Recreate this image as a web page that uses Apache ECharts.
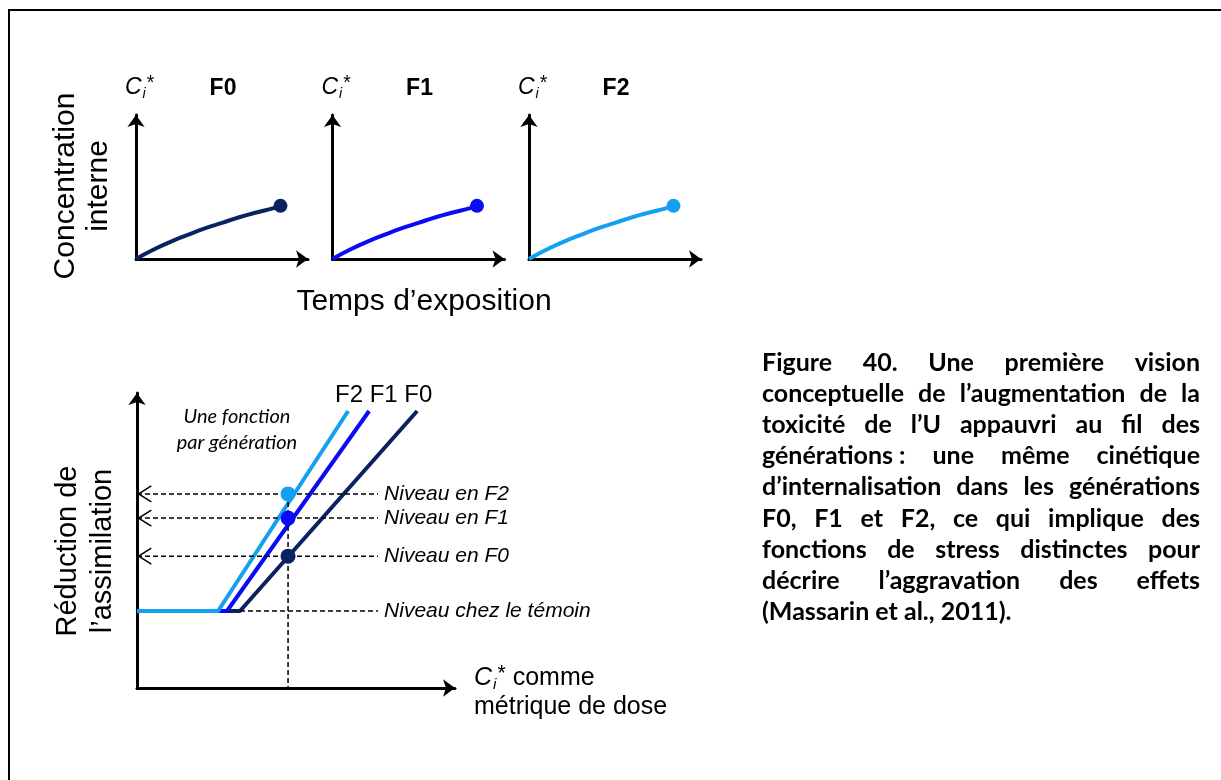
<!DOCTYPE html>
<html lang="fr">
<head>
<meta charset="utf-8">
<title>Figure 40</title>
<script src="https://cdn.jsdelivr.net/npm/echarts@6.0.0/dist/echarts.min.js"></script>
<style>
  html, body { margin: 0; padding: 0; background: #fff; }
  #chart { width: 1221px; height: 780px; }
</style>
</head>
<body>
<div id="chart"></div>
<script>
const generations = ['F0', 'F1', 'F2'];
const genColors = ['#0b2260', '#0a0af5', '#14a0f0'];

// internalisation kinetics, the same in every generation
const exposureTime = [0, 10, 20, 30, 40, 50, 60, 70, 80, 84];
const internalConc = [0, 6.4, 11.9, 16.7, 21.2, 25.1, 29, 32.3, 35.3, 36.9];

// stress functions: control level, then a straight rise from the threshold
const controlLevel = 26.1;
const thresholdDose = [32.4, 28.3, 25.5];
const maxDose = [88.1, 73, 66.4];
const maxEffect = 93.9;
const exposureDose = 47.5;
const observedLevel = [44.7, 57.6, 65.8];
const levelLabels = ['Niveau en F0', 'Niveau en F1', 'Niveau en F2'];
const controlLabel = 'Niveau chez le témoin';
const labelDose = 75.8;

const captionLines = [
  'Figure 40. Une première vision',
  'conceptuelle de l’augmentation de la',
  'toxicité de l’U appauvri au fil des',
  'générations\u00a0: une même cinétique',
  'd’internalisation dans les générations',
  'F0, F1 et F2, ce qui implique des',
  'fonctions de stress distinctes pour',
  'décrire l’aggravation des effets',
  '(Massarin et al., 2011).',
];

const FONT = "'Liberation Sans', Arial, sans-serif";
const CAPTION_FONT = 'Lato';
const CAPTION_SIZE = 25;
const CAPTION_LEFT = 762;
const CAPTION_WIDTH = 438;
const CAPTION_TOP = 363;
const CAPTION_STEP = 31.1;

const ciRich = (size) => ({
  c: { fontSize: size, fontStyle: 'italic', fontFamily: FONT, lineHeight: size + 4, color: '#000' },
  i: { fontSize: size * 0.62, fontStyle: 'italic', fontFamily: FONT, verticalAlign: 'bottom', lineHeight: size * 0.62, padding: [size * 0.7, 1, 0, 1], color: '#000' },
  s: { fontSize: size * 0.85, fontFamily: FONT, verticalAlign: 'top', lineHeight: size * 0.85, color: '#000' },
  t: { fontSize: size, fontFamily: FONT, lineHeight: size + 4, color: '#000' },
});

const arrowAxis = (gridIndex, extra = {}) => ({
  gridIndex,
  type: 'value',
  min: 0,
  max: 100,
  axisLine: {
    show: true,
    onZero: false,
    symbol: ['none', 'arrow'],
    symbolSize: [13, 12],
    lineStyle: { color: '#000', width: 3 },
  },
  axisTick: { show: false },
  axisLabel: { show: false },
  splitLine: { show: false },
  ...extra,
});

const smallGrids = generations.map((g, i) => ({ left: 136 + i * 196.5, top: 115, width: 172, height: 144 }));
const doseGrid = { left: 137, top: 393, width: 318, height: 295 };
const doseAxis = smallGrids.length;

const kineticSeries = generations.flatMap((g, i) => [
  {
    type: 'line',
    xAxisIndex: i,
    yAxisIndex: i,
    data: exposureTime.map((t, k) => [t, internalConc[k]]),
    smooth: true,
    symbol: 'none',
    lineStyle: { color: genColors[i], width: 4 },
  },
  {
    type: 'scatter',
    xAxisIndex: i,
    yAxisIndex: i,
    data: [[exposureTime[exposureTime.length - 1], internalConc[internalConc.length - 1]]],
    symbolSize: 14,
    itemStyle: { color: genColors[i], opacity: 1 },
    z: 5,
  },
]);

const dashed = { color: '#000', width: 1.5, type: [5, 3] };
const levelLabel = (text) => ({
  show: true,
  formatter: () => text,
  color: '#000',
  fontFamily: FONT,
  fontStyle: 'italic',
  fontSize: 21,
  distance: 6,
});

const stressSeries = generations.map((g, i) => ({
  type: 'line',
  xAxisIndex: doseAxis,
  yAxisIndex: doseAxis,
  data: [[0, controlLevel], [thresholdDose[i], controlLevel], [maxDose[i], maxEffect]],
  symbol: 'none',
  lineStyle: { color: genColors[i], width: 4 },
  z: 3,
}));

const levelSeries = observedLevel.map((lvl, i) => ({
  type: 'line',
  xAxisIndex: doseAxis,
  yAxisIndex: doseAxis,
  data: [[0, lvl], [labelDose, lvl]],
  symbol: 'none',
  lineStyle: dashed,
  endLabel: levelLabel(levelLabels[i]),
  z: 4,
}));

// open arrow heads pointing at the y axis
const chevronSeries = observedLevel.map((lvl) => ({
  type: 'line',
  xAxisIndex: doseAxis,
  yAxisIndex: doseAxis,
  data: [[4.5, lvl + 2.7], [0.5, lvl], [4.5, lvl - 2.7]],
  symbol: 'none',
  lineStyle: { color: '#000', width: 1.5 },
  z: 4,
}));

const extraSeries = [
  {
    type: 'line',
    xAxisIndex: doseAxis,
    yAxisIndex: doseAxis,
    data: [[thresholdDose[0], controlLevel], [labelDose, controlLevel]],
    symbol: 'none',
    lineStyle: dashed,
    endLabel: levelLabel(controlLabel),
    z: 4,
  },
  {
    type: 'line',
    xAxisIndex: doseAxis,
    yAxisIndex: doseAxis,
    data: [[exposureDose, observedLevel[2]], [exposureDose, 0]],
    symbol: 'none',
    lineStyle: dashed,
    z: 4,
  },
  {
    type: 'scatter',
    xAxisIndex: doseAxis,
    yAxisIndex: doseAxis,
    data: observedLevel.map((lvl, i) => ({ value: [exposureDose, lvl], itemStyle: { color: genColors[i], opacity: 1 } })),
    symbolSize: 15,
    z: 6,
  },
];

// justified caption: words are spread over the column width
const measure = document.createElement('canvas').getContext('2d');
measure.font = `bold ${CAPTION_SIZE}px ${CAPTION_FONT}`;
const captionGraphics = [];
captionLines.forEach((line, row) => {
  const words = line.split(' ');
  const widths = words.map((w) => measure.measureText(w).width);
  const used = widths.reduce((a, b) => a + b, 0);
  const isLast = row === captionLines.length - 1;
  const gap = isLast ? measure.measureText(' ').width : (CAPTION_WIDTH - used) / (words.length - 1);
  let x = CAPTION_LEFT;
  words.forEach((w, k) => {
    captionGraphics.push({
      type: 'text',
      x,
      y: CAPTION_TOP + row * CAPTION_STEP,
      style: {
        text: w,
        fontSize: CAPTION_SIZE,
        fontWeight: 'bold',
        fontFamily: CAPTION_FONT,
        fill: '#000',
        verticalAlign: 'middle',
      },
    });
    x += widths[k] + gap;
  });
});

const textStyle = (text, size, extra = {}) => ({
  text,
  fontSize: size,
  fontFamily: FONT,
  fill: '#000',
  align: 'center',
  verticalAlign: 'middle',
  ...extra,
});

const chart = echarts.init(document.getElementById('chart'));
chart.setOption({
  animation: false,
  backgroundColor: '#fff',
  grid: smallGrids.concat(doseGrid),
  xAxis: smallGrids.map((g, i) => arrowAxis(i)).concat(arrowAxis(doseAxis)),
  yAxis: smallGrids
    .map((g, i) =>
      arrowAxis(i, {
        name: '{c|C}{i|i}{s|*}',
        nameLocation: 'end',
        nameGap: 14,
        nameTextStyle: { rich: ciRich(23), align: 'left', padding: [0, 0, 0, -11] },
      })
    )
    .concat(arrowAxis(doseAxis)),
  series: kineticSeries.concat(stressSeries, levelSeries, chevronSeries, extraSeries),
  graphic: [
    {
      type: 'rect',
      shape: { x: 9, y: 10, width: 1400, height: 1000 },
      style: { fill: 'none', stroke: '#000', lineWidth: 2 },
      silent: true,
    },
    ...generations.map((g, i) => ({
      type: 'text',
      x: 223 + i * 196.5,
      y: 89,
      style: textStyle(g, 23, { fontWeight: 'bold' }),
    })),
    {
      type: 'text',
      x: 82,
      y: 186,
      rotation: Math.PI / 2,
      style: textStyle('Concentration\ninterne', 30, { lineHeight: 33 }),
    },
    { type: 'text', x: 424, y: 302, style: textStyle('Temps d’exposition', 30) },
    {
      type: 'text',
      x: 85,
      y: 551,
      rotation: Math.PI / 2,
      style: textStyle('Réduction de\nl’assimilation', 29, { lineHeight: 35 }),
    },
    { type: 'text', x: 335, y: 395, style: textStyle('F2 F1 F0', 24, { align: 'left' }) },
    {
      type: 'text',
      x: 237,
      y: 430,
      style: textStyle('Une fonction\npar génération', 20, { fontFamily: 'Lato', fontStyle: 'italic', lineHeight: 26 }),
    },
    {
      type: 'text',
      x: 474,
      y: 693,
      style: {
        text: '{c|C}{i|i}{s|*}{t| comme}\n{t|métrique de dose}',
        rich: ciRich(25),
        align: 'left',
        verticalAlign: 'middle',
      },
    },
    ...captionGraphics,
  ],
});
</script>
</body>
</html>
